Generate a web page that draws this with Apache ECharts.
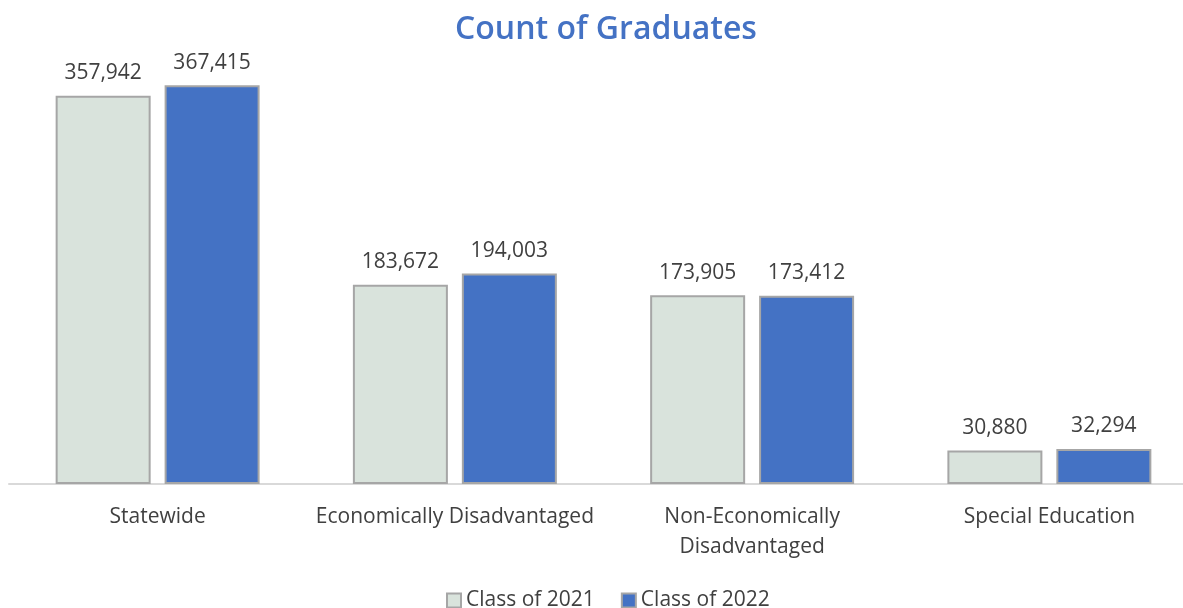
<!DOCTYPE html>
<html><head><meta charset="utf-8">
<script src="https://cdn.jsdelivr.net/npm/echarts@6/dist/echarts.min.js"></script>
<style>html,body{margin:0;padding:0;background:#fff}#c{width:1183px;height:608px}</style>
</head><body><div id="c"></div>
<script>
const categories = ["Statewide", "Economically Disadvantaged", "Non-Economically\nDisadvantaged", "Special Education"];
const class2021 = [357942, 183672, 173905, 30880];
const class2022 = [367415, 194003, 173412, 32294];
const seriesNames = ["Class of 2021", "Class of 2022"];

const chart = echarts.init(document.getElementById('c'));
const font = '"Open Sans", "Noto Sans", sans-serif';
const lbl = {show: true, position: 'top', distance: 12, color: '#404040', fontSize: 21, fontFamily: font,
  formatter: p => p.value.toLocaleString('en-US')};
chart.setOption({
  animation: false,
  title: {text: 'Count of Graduates', left: 450, top: 9,
    textStyle: {color: '#4472C4', fontSize: 32, fontWeight: 600, fontFamily: font}},
  legend: {left: 441, bottom: -8, icon: 'rect', itemWidth: 14, itemHeight: 14, itemGap: 26,
    textStyle: {color: '#404040', fontSize: 21, fontFamily: font}},
  grid: {left: 9, width: 1189, top: 50, height: 434, containLabel: false, outerBoundsMode: 'none'},
  xAxis: {type: 'category', data: categories,
    axisLine: {lineStyle: {color: '#D9D9D9', width: 2}},
    axisTick: {show: false},
    axisLabel: {color: '#404040', fontSize: 21, fontFamily: font, margin: 18, lineHeight: 30, interval: 0}},
  yAxis: {type: 'value', min: 0, max: 400000, show: false, splitLine: {show: false}},
  series: [
    {name: seriesNames[0], type: 'bar', data: class2021, barWidth: 95, barGap: '14.7%',
     itemStyle: {color: '#D9E3DC', borderColor: '#A6A6A6', borderWidth: 2}, label: lbl},
    {name: seriesNames[1], type: 'bar', data: class2022, barWidth: 95,
     itemStyle: {color: '#4472C4', borderColor: '#A6A6A6', borderWidth: 2}, label: lbl}
  ]
});
</script></body></html>
